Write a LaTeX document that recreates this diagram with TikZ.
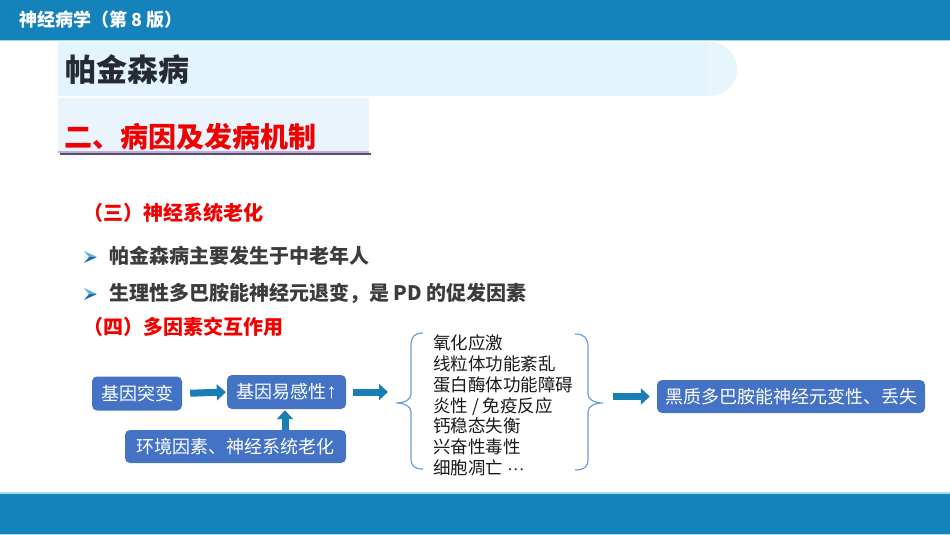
\documentclass[tikz,border=0pt]{standalone}
\usepackage{fontspec}
\setmainfont{Noto Sans CJK SC}
\newfontfamily\arrowfont{Liberation Sans}
\usetikzlibrary{arrows.meta}
\definecolor{barblue}{HTML}{1482BB}
\definecolor{barlight}{HTML}{A8D8F0}
\definecolor{titleband}{HTML}{E3F4FC}
\definecolor{titlecap}{HTML}{E6F6FA}
\definecolor{secband}{HTML}{EAF4FD}
\definecolor{lavender}{HTML}{C9A6E8}
\definecolor{shadowgray}{HTML}{55505E}
\definecolor{myred}{HTML}{F20000}
\definecolor{darktext}{HTML}{262B33}
\definecolor{bullettext}{HTML}{3C3C3C}
\definecolor{boxblue}{HTML}{4472C4}
\definecolor{arrowblue}{HTML}{1A7DB5}
\definecolor{bracecol}{HTML}{6A9ED6}
\definecolor{bulletlight}{HTML}{5FB3E3}
\definecolor{bulletdark}{HTML}{1D6AAE}
\tikzset{
  txt/.style={inner sep=0pt, anchor=west},
  flowbox/.style={fill=boxblue, rounded corners=5pt, text=white, inner sep=0pt,
    font=\fontsize{18}{20}\selectfont},
  fatarrow/.style={draw=arrowblue, line width=7pt, -{Triangle[length=9pt 0 0,width=16pt 0 0]}},
  bracestyle/.style={draw=bracecol, line width=1.2pt},
}
\begin{document}
\begin{tikzpicture}[x=1pt,y=-1pt]
\useasboundingbox (0,0) rectangle (950,535);
% bars
\fill[barblue] (0,0) rectangle (950,40);
\fill[barlight] (0,40) rectangle (950,41.5);
\fill[barlight] (0,492) rectangle (950,493.5);
\fill[barblue] (0,493.5) rectangle (950,533.5);
\fill[barlight] (0,533.5) rectangle (950,535);
\node[txt, text=white, font=\fontsize{18}{20}\selectfont\bfseries] (hdr) at (19,20) {神经病学（第 8 版）};
% title band
\fill[titleband] (58,42) rectangle (708,96);
\fill[titlecap] (708,42) .. controls (746.7,42) and (746.7,96) .. (708,96) -- cycle;
\node[txt, text=darktext, font=\fontsize{31}{34}\selectfont\bfseries] (title) at (65,70) {帕金森病};
% section band
\fill[secband] (58,98) rectangle (369,151);
\fill[lavender] (58,151) rectangle (369,153.3);
\fill[shadowgray] (59.5,153.3) rectangle (371,155.3);
\node[txt, text=myred, font=\fontsize{28}{30}\selectfont\bfseries] (sec) at (64,137) {二、病因及发病机制};
% sub headings and bullets
\node[txt, text=myred, font=\fontsize{20}{22}\selectfont\bfseries] (h3) at (83,213) {（三）神经系统老化};
\node[txt, text=bullettext, font=\fontsize{20}{22}\selectfont\bfseries] (bl1) at (109,256) {帕金森病主要发生于中老年人};
\node[txt, text=bullettext, font=\fontsize{20}{22}\selectfont\bfseries] (bl2) at (109,293) {生理性多巴胺能神经元退变，是 PD 的促发因素};
\node[txt, text=myred, font=\fontsize{20}{22}\selectfont\bfseries] (h4) at (83,327) {（四）多因素交互作用};
\foreach \yy in {251,288}{
  \fill[bulletlight] (84,\yy) -- (97,\yy+6) -- (89,\yy+6) -- cycle;
  \fill[bulletdark] (89,\yy+6) -- (97,\yy+6) -- (84,\yy+12) -- cycle;
}
% flow boxes
\node[flowbox, minimum width=90pt, minimum height=34pt] (b1) at (137,393.5) {基因突变};
\node[flowbox, minimum width=119pt, minimum height=34pt] (b2) at (286.5,392) {基因易感性{\arrowfont\fontsize{21}{22}\selectfont ↑}};
\node[flowbox, minimum width=221pt, minimum height=33pt] (env) at (235.5,446.5) {环境因素、神经系统老化};
\node[flowbox, minimum width=268pt, minimum height=33pt] (fin) at (791,396.5) {黑质多巴胺能神经元变性、丢失};
% list
\node[txt, align=left, text=black!90, font=\fontsize{17.5}{20.8}\selectfont] (list) at (433,405.5)
  {氧化应激\\线粒体功能紊乱\\蛋白酶体功能障碍\\炎性 / 免疫反应\\钙稳态失衡\\兴奋性毒性\\细胞凋亡 {\arrowfont ···}};
% braces
\coordinate (bl) at (396,403);
\coordinate (br) at (603,403);
\draw[bracestyle] (423,333) .. controls (414,333) and (411,337) .. (411,346) -- (411,394)
  .. controls (411,400) and (404,403) .. (bl)
  .. controls (404,403) and (411,406) .. (411,412) -- (411,458)
  .. controls (411,466) and (414,469) .. (423,469);
\draw[bracestyle] (575,334) .. controls (584,334) and (588,338) .. (588,347) -- (588,394)
  .. controls (588,400) and (595,403) .. (br)
  .. controls (595,403) and (588,406) .. (588,412) -- (588,459)
  .. controls (588,467) and (584,470) .. (575,470);
% arrows
\coordinate (ua) at (285,420);
\draw[fatarrow, shorten <=8pt, shorten >=1pt] (b1.east) -- (b2.west);
\draw[fatarrow, shorten <=7pt, shorten >=8pt] (b2.east) -- (bl |- b2.east);
\draw[fatarrow, shorten <=10pt, shorten >=7pt] (br |- fin.west) -- (fin.west);
\draw[fatarrow, shorten >=1pt] (ua |- env.north) -- (ua |- b2.south);
\end{tikzpicture}
\end{document}
